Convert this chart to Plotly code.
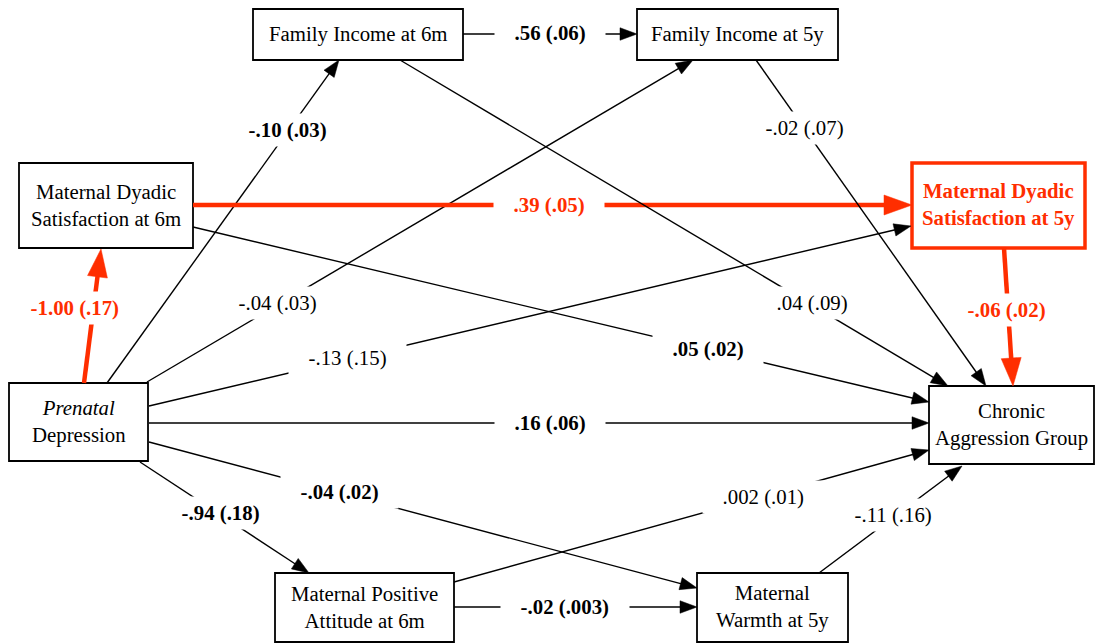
import math
import plotly.graph_objects as go

# ---------------- data ----------------
node_ids = ["FI6m", "FI5y", "MDS6m", "MDS5y", "PD", "MPA6m", "MW5y", "CAG"]
node_labels = [
    "Family Income at 6m",
    "Family Income at 5y",
    "Maternal Dyadic<br>Satisfaction at 6m",
    "Maternal Dyadic<br>Satisfaction at 5y",
    "<i>Prenatal</i><br>Depression",
    "Maternal Positive<br>Attitude at 6m",
    "Maternal<br>Warmth at 5y",
    "Chronic<br>Aggression Group",
]
node_highlight = [False, False, False, True, False, False, False, False]

path_from = ["FI6m", "PD", "PD", "PD", "PD", "PD", "PD", "PD",
             "MDS6m", "MDS6m", "FI6m", "FI5y", "MDS5y", "MPA6m", "MW5y", "MPA6m"]
path_to = ["FI5y", "FI6m", "FI5y", "MDS6m", "MDS5y", "CAG", "MW5y", "MPA6m",
           "MDS5y", "CAG", "CAG", "CAG", "CAG", "CAG", "CAG", "MW5y"]
path_coef = [".56", "-.10", "-.04", "-1.00", "-.13", ".16", "-.04", "-.94",
             ".39", ".05", ".04", "-.02", "-.06", ".002", "-.11", "-.02"]
path_se = [".06", ".03", ".03", ".17", ".15", ".06", ".02", ".18",
           ".05", ".02", ".09", ".07", ".02", ".01", ".16", ".003"]
path_significant = [True, True, False, True, False, True, True, True,
                     True, True, False, False, True, False, False, True]
path_highlight = [False, False, False, True, False, False, False, False,
                  True, False, False, False, True, False, False, False]

# ---------------- layout (positions, styles) ----------------
W, H = 1097, 643
node_box = {
    "FI6m": (253, 9, 463, 60),
    "FI5y": (637, 9, 838, 60),
    "MDS6m": (19, 163, 193, 248),
    "MDS5y": (912, 163, 1085, 248),
    "PD": (9, 383, 148, 461),
    "MPA6m": (275, 573, 454, 642),
    "MW5y": (697, 573, 848, 642),
    "CAG": (929, 386, 1094, 464),
}
# start point, end point, label centre for each path (same order as data)
path_geom = [
    ((463, 34), (637, 34), (550, 33)),
    ((107, 383), (339, 60), (287, 130)),
    ((147, 382), (693, 60), (277, 303)),
    ((84, 383), (101, 249), (75, 308)),
    ((149, 406), (911, 226), (347, 358)),
    ((149, 423), (929, 423), (550, 423)),
    ((149, 442), (697, 588), (339, 492)),
    ((140, 462), (309, 573), (220, 513)),
    ((193, 205), (912, 205), (549, 205)),
    ((193, 227), (929, 402), (708, 349)),
    ((400, 60), (948, 386), (812, 303)),
    ((756, 60), (986, 386), (804, 128)),
    ((1004, 248), (1013, 386), (1006, 310)),
    ((454, 582), (929, 450), (763, 497)),
    ((819, 573), (962, 466), (893, 515)),
    ((454, 607), (697, 607), (565, 607)),
]

RED = "#FF2E00"
BLACK = "#000000"
FONT = "Liberation Serif"
FS = 20.8

fig = go.Figure()
shapes = []
annotations = []

# boxes
for nid, lab, hl in zip(node_ids, node_labels, node_highlight):
    x0, y0, x1, y1 = node_box[nid]
    shapes.append(dict(type="rect", xref="x", yref="y", x0=x0, y0=y0, x1=x1, y1=y1,
                       line=dict(color=RED if hl else BLACK, width=3.5 if hl else 1.8),
                       fillcolor="white", layer="above"))
    txt = f"<b>{lab}</b>" if hl else lab
    annotations.append(dict(x=(x0 + x1) / 2, y=(y0 + y1) / 2 - 1, xref="x", yref="y",
                            text=txt, showarrow=False, align="center",
                            font=dict(family=FONT, size=FS, color=RED if hl else BLACK)))

# paths
label_ann = []
for i in range(len(path_from)):
    (sx, sy), (ex, ey), (lx, ly) = path_geom[i]
    hl = path_highlight[i]
    col = RED if hl else BLACK
    lw = 4.5 if hl else 1.4
    hl_len, hw = (28, 20) if hl else (17, 12.5)
    dx, dy = ex - sx, ey - sy
    L = math.hypot(dx, dy)
    ux, uy = dx / L, dy / L
    px, py = -uy, ux
    bx, by = ex - ux * hl_len, ey - uy * hl_len
    lx_end, ly_end = ex - ux * (hl_len - 2), ey - uy * (hl_len - 2)
    shapes.append(dict(type="line", xref="x", yref="y", x0=sx, y0=sy, x1=lx_end, y1=ly_end,
                       line=dict(color=col, width=lw), layer="above"))
    c1 = (bx + px * hw / 2, by + py * hw / 2)
    c2 = (bx - px * hw / 2, by - py * hw / 2)
    path = f"M {ex},{ey} L {c1[0]:.2f},{c1[1]:.2f} L {c2[0]:.2f},{c2[1]:.2f} Z"
    shapes.append(dict(type="path", xref="x", yref="y", path=path,
                       fillcolor=col, line=dict(color=col, width=0.5), layer="above"))
    lab = f"{path_coef[i]} ({path_se[i]})"
    if path_significant[i]:
        lab = f"<b>{lab}</b>"
    pad = "\u00a0\u00a0\u00a0"
    label_ann.append(dict(x=lx, y=ly, xref="x", yref="y", text=pad + lab + pad,
                          showarrow=False, bgcolor="white", borderpad=4,
                          font=dict(family=FONT, size=FS, color=col)))

annotations = label_ann + annotations

fig.update_layout(
    width=W, height=H,
    margin=dict(l=0, r=0, t=0, b=0),
    paper_bgcolor="white", plot_bgcolor="white",
    font=dict(family=FONT),
    xaxis=dict(range=[0, W], visible=False, fixedrange=True),
    yaxis=dict(range=[H, 0], visible=False, fixedrange=True),
    shapes=shapes, annotations=annotations, showlegend=False,
)
fig.write_html("out.html")
